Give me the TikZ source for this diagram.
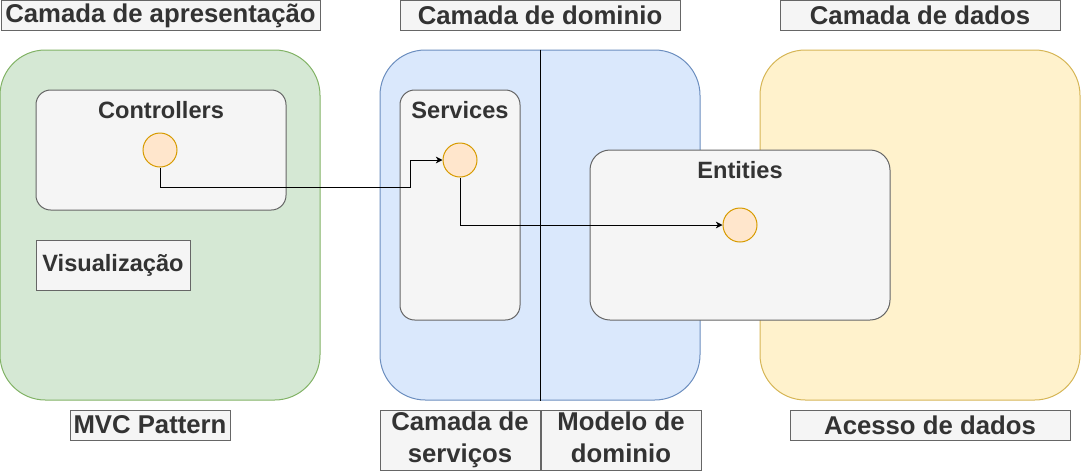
\documentclass[tikz,border=0pt]{standalone}
\usepackage{fontspec}
\setmainfont{Liberation Sans}
\usepackage{tikz}
\usetikzlibrary{arrows.meta, positioning}
\definecolor{GreenFill}{HTML}{D5E8D4}
\definecolor{GreenLine}{HTML}{82B366}
\definecolor{BlueFill}{HTML}{DAE8FC}
\definecolor{BlueLine}{HTML}{6C8EBF}
\definecolor{YellowFill}{HTML}{FFF2CC}
\definecolor{YellowLine}{HTML}{D6B656}
\definecolor{GrayFill}{HTML}{F5F5F5}
\definecolor{GrayLine}{HTML}{666666}
\definecolor{TextGray}{HTML}{333333}
\definecolor{PointFill}{HTML}{FFE6CC}
\definecolor{PointLine}{HTML}{D79B00}
\newcommand{\topstrut}{\rule{0pt}{15pt}}
\newcommand{\botstrut}{\rule[-6pt]{0pt}{6pt}}

\begin{document}
\begin{tikzpicture}[
    x=0.75pt, y=-0.75pt,
    layer/.style={
        rectangle, rounded corners=34pt, line width=0.75pt,
        minimum width=240pt, minimum height=262.5pt, inner sep=0pt
    },
    heading/.style={
        rectangle, draw=GrayLine, fill=GrayFill, line width=0.75pt,
        minimum height=22.5pt, inner sep=0pt, text=TextGray,
        font=\fontsize{19.3}{24}\selectfont\bfseries, align=center
    },
    group/.style={
        rectangle, rounded corners=11pt, draw=GrayLine, fill=GrayFill,
        line width=0.75pt, inner sep=0pt
    },
    grouplbl/.style={
        font=\fontsize{17.7}{21}\selectfont\bfseries, text=TextGray,
        inner sep=0pt
    },
    point/.style={
        circle, draw=PointLine, fill=PointFill, line width=0.75pt,
        minimum size=25.5pt, inner sep=0pt
    },
    arr/.style={-{Stealth[length=5pt, width=5pt, inset=1.5pt]},
        line width=0.75pt, black}
]
\useasboundingbox (0,0) rectangle (1081,472);

% ===================================================================
% LAYERS
% ===================================================================
\node[layer, fill=GreenFill, draw=GreenLine] (present) at (160,225) {};
\node[layer, fill=BlueFill, draw=BlueLine] (domain) at (540,225) {};
\node[layer, fill=YellowFill, draw=YellowLine] (data) at (920,225) {};

% Divider inside domain layer
\draw[line width=0.75pt, black] (domain.north) -- (domain.south);

% Layer titles
\node[heading, minimum width=239.25pt] (titlePres) at (160.5,15.5)
    {Camada de apresentação};
\node[heading, minimum width=210pt] (titleDom) at (540,15.5)
    {Camada de dominio};
\node[heading, minimum width=210pt] (titleData) at (920,15.5)
    {Camada de dados};

% ===================================================================
% PRESENTATION
% ===================================================================
\node[group, minimum width=187.5pt, minimum height=90pt] (ctrl)
    at (161,150) {};
\node[grouplbl, below=9pt of ctrl.north] (ctrllbl) {Controllers};
\node[point] (ctrlpt) at (160,150) {};

\node[heading, font=\fontsize{17.7}{21}\selectfont\bfseries,
      minimum width=115.5pt, minimum height=37.5pt] (view)
    at (113,265) {Visualização};

% ===================================================================
% DOMAIN
% ===================================================================
\node[group, minimum width=90pt, minimum height=172.5pt] (svc)
    at (460,205) {};
\node[grouplbl, below=9pt of svc.north] (svclbl) {Services};
\node[point] (svcpt) at (460,160) {};

\node[group, rounded corners=15pt, minimum width=225pt,
      minimum height=127.5pt] (ent) at (740,235) {};
\node[grouplbl, below=9pt of ent.north] (entlbl) {Entities};
\node[point] (entpt) at (740,225) {};

% ===================================================================
% CONNECTORS
% ===================================================================
\coordinate (bend) at (410,187);
\draw[arr] (ctrlpt.south) |- (bend) |- (svcpt.west);
\draw[arr] (svcpt.south) |- (entpt.west);

% ===================================================================
% BOTTOM LABELS
% ===================================================================
\node[heading, minimum width=120pt] (mvc) at (150,425) {MVC Pattern};
\node[heading, minimum width=120pt, minimum height=45pt] (svclayer)
    at (460,440) {\topstrut Camada de\\serviços\botstrut};
\node[heading, minimum width=120pt, minimum height=45pt,
      right=0pt of svclayer] (model) {\topstrut Modelo de\\dominio\botstrut};
\node[heading, minimum width=210pt] (access) at (930,425)
    {Acesso de dados};

\end{tikzpicture}
\end{document}
